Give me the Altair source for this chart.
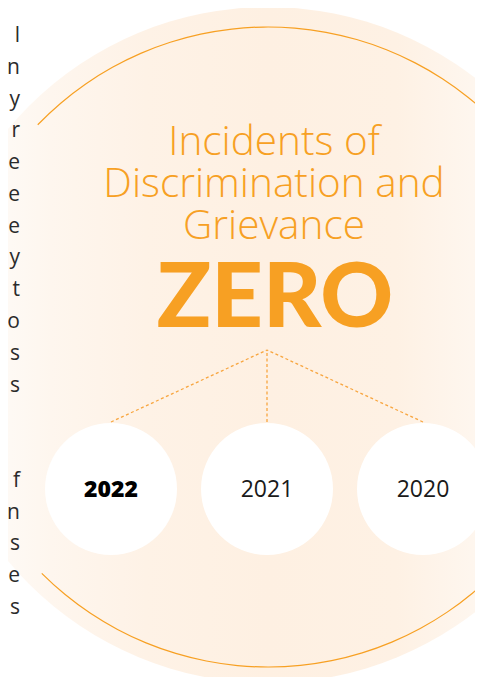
import altair as alt
import pandas as pd

# ---- content ----
title_lines = ["Incidents of", "Discrimination and", "Grievance"]
headline = ["ZERO"]
years = ["2022", "2021", "2020"]
highlight_year = "2022"
# right-hand ends of the cropped paragraph text at the left edge
left_fragments = ["l", "n", "y", "r", "e", "e", "e", "y", "t", "o", "s", "s",
                  "", "", "f", "n", "s", "e", "s"]

ORANGE = "#F7A023"
OFF = 8  # page margin

W, H = 467, 669

one = pd.DataFrame({"k": [0]})

# big soft circle with a horizontal gradient
grad = alt.LinearGradient(
    gradient="linear", x1=0, x2=1, y1=0, y2=0,
    stops=[
        alt.GradientStop(color="#FFFDFB", offset=0.0),
        alt.GradientStop(color="#FEFAF6", offset=0.10),
        alt.GradientStop(color="#FEF6EE", offset=0.18),
        alt.GradientStop(color="#FEF2E6", offset=0.32),
        alt.GradientStop(color="#FEF0E2", offset=0.50),
        alt.GradientStop(color="#FEF1E4", offset=0.69),
        alt.GradientStop(color="#FEF6EE", offset=0.80),
        alt.GradientStop(color="#FFFBF7", offset=1.0),
    ],
)
big = alt.Chart(one).mark_arc(radius=338, theta=0, theta2=6.2832, color=grad).encode(
    x=alt.value(268 - OFF), y=alt.value(345 - OFF)
)

ring = alt.Chart(one).mark_arc(
    radius=320.6, radius2=319.4, theta=5.48, theta2=10.21, color=ORANGE
).encode(x=alt.value(268 - OFF), y=alt.value(347 - OFF))

ydf = pd.DataFrame({"year": years})
ydf["bold"] = ydf["year"] == highlight_year
xs = alt.Scale(type="point", domain=years, range=[111 - OFF, 423 - OFF], padding=0)

links = alt.Chart(ydf).mark_rule(color="#F8A640", strokeWidth=1.3, strokeDash=[3, 2.5]).encode(
    x=alt.X("year:N", scale=xs, axis=None),
    y=alt.value(422 - OFF),
    x2=alt.value(267 - OFF),
    y2=alt.value(350 - OFF),
)

dots = alt.Chart(ydf).mark_circle(size=132 * 132, color="white", opacity=1).encode(
    x=alt.X("year:N", scale=xs, axis=None),
    y=alt.value(489 - OFF),
)

ylab_reg = alt.Chart(ydf).transform_filter("!datum.bold").mark_text(
    font="Open Sans", fontSize=23, baseline="middle", align="center", color="#1a1a1a"
).encode(
    x=alt.X("year:N", scale=xs, axis=None),
    y=alt.value(490 - OFF),
    text="year:N",
)
ylab_bold = alt.Chart(ydf).transform_filter("datum.bold").mark_text(
    font="Open Sans", fontSize=23, fontWeight=800, baseline="middle", align="center", color="#000000"
).encode(
    x=alt.X("year:N", scale=xs, axis=None),
    y=alt.value(490 - OFF),
    text="year:N",
)

tdf = pd.DataFrame({"line": title_lines, "i": list(range(len(title_lines)))})
title = alt.Chart(tdf).mark_text(
    font="Open Sans", fontWeight=300, fontSize=40.5, color=ORANGE, align="center", baseline="alphabetic"
).encode(
    x=alt.value(274 - OFF),
    y=alt.Y("i:Q", scale=alt.Scale(domain=[0, 2], range=[155 - OFF, 239 - OFF]), axis=None),
    text="line:N",
)

zero = alt.Chart(pd.DataFrame({"v": headline})).mark_text(
    font="Lato", fontWeight=900, fontSize=90, color=ORANGE, align="center", baseline="alphabetic"
).encode(x=alt.value(275 - OFF), y=alt.value(327 - OFF), text="v:N")

ldf = pd.DataFrame({"t": left_fragments, "i": list(range(len(left_fragments)))})
left = alt.Chart(ldf).mark_text(
    font="Open Sans", fontSize=21, color="#2b2b2b", align="right", baseline="alphabetic"
).encode(
    x=alt.value(20 - OFF),
    y=alt.Y("i:Q", scale=alt.Scale(domain=[0, 18], range=[42 - OFF, 614 - OFF]), axis=None),
    text="t:N",
)

chart = alt.layer(big, ring, links, dots, ylab_reg, ylab_bold, title, zero, left).resolve_scale(
    x="independent", y="independent"
).properties(
    width=W, height=H, padding=0,
    autosize=alt.AutoSizeParams(type="none"),
    background="white",
).configure_view(stroke=None)

chart.save("out.html", embed_options={"renderer": "svg", "actions": False})
